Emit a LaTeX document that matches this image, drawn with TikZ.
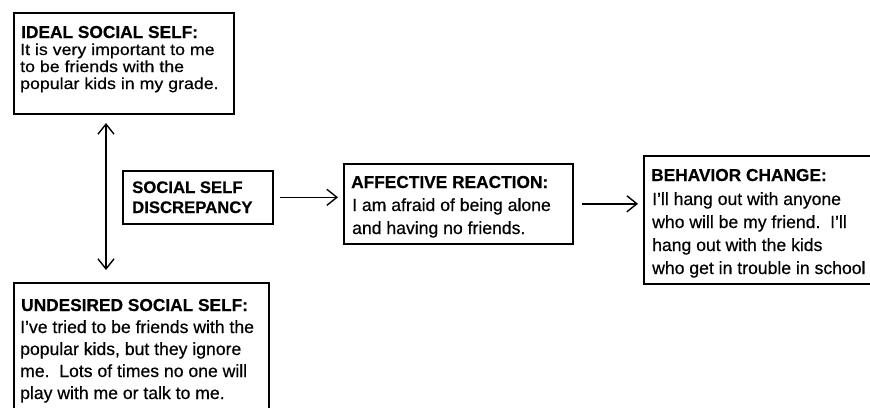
\documentclass[tikz,border=0pt]{standalone}
\usepackage{fontspec}
\setmainfont{Liberation Sans}[FakeBold=0.5]
\usetikzlibrary{arrows.meta}
\begin{document}
\begin{tikzpicture}[x=1pt,y=-1pt,
  box/.style={draw,line width=1.6pt,inner sep=0pt,anchor=north west},
  ttl/.style={anchor=base west,inner sep=0pt,font=\fontsize{17.3}{20}\selectfont\bfseries},
  bdy/.style={anchor=base west,inner sep=0pt,font=\fontsize{17.6}{20}\selectfont},
  sbdy/.style={anchor=base west,inner sep=0pt,font=\fontsize{16}{17}\selectfont\addfontfeature{FakeStretch=1.11}},
  arr/.style={line width=1.4pt,-{Straight Barb[length=10pt,width=16pt,line width=1.4pt]}},
  darr/.style={line width=1.4pt,{Straight Barb[length=10pt,width=16pt,line width=1.4pt]}-{Straight Barb[length=10pt,width=16pt,line width=1.4pt]}}]
\useasboundingbox (0,0) rectangle (870,407);
\clip (0,0) rectangle (870,407);
% boxes
\node[box,minimum width=220pt,minimum height=101pt] (ideal) at (13,12) {};
\node[box,minimum width=150pt,minimum height=53pt] (disc) at (122,170) {};
\node[box,minimum width=229pt,minimum height=80pt] (aff) at (343,163) {};
\node[box,minimum width=250pt,minimum height=128pt] (beh) at (643,155) {};
\node[box,minimum width=255pt,minimum height=150pt] (und) at (13,282) {};
% ideal
\node[ttl] (i0) at (21,38) {IDEAL SOCIAL SELF:};
\node[sbdy] (i1) at (20,55) {It is very important to me};
\node[sbdy] (i2) at (20,72) {to be friends with the};
\node[sbdy] (i3) at (20,89) {popular kids in my grade.};
% discrepancy
\node[anchor=base west,inner sep=0pt,font=\fontsize{16.7}{20}\selectfont\bfseries] (d1) at (132,193) {SOCIAL SELF};
\node[anchor=base west,inner sep=0pt,font=\fontsize{16.7}{20}\selectfont\bfseries] (d2) at (132,213) {DISCREPANCY};
% affective
\node[ttl] (a0) at (351,188) {AFFECTIVE REACTION:};
\node[bdy] (a1) at (352,211) {I am afraid of being alone};
\node[bdy] (a2) at (352,234) {and having no friends.};
% behavior
\node[ttl] (b0) at (651,181) {BEHAVIOR CHANGE:};
\node[bdy] (b1) at (652,205) {I'll hang out with anyone};
\node[bdy] (b2) at (652,228) {who will be my friend.\ \ I'll};
\node[bdy] (b3) at (652,251) {hang out with the kids};
\node[bdy] (b4) at (652,274) {who get in trouble in school};
% undesired
\node[ttl] (u0) at (21,311) {UNDESIRED SOCIAL SELF:};
\node[bdy] (u1) at (20,333) {I've tried to be friends with the};
\node[bdy] (u2) at (20,355) {popular kids, but they ignore};
\node[bdy] (u3) at (20,377) {me.\ \ Lots of times no one will};
\node[bdy] (u4) at (20,399) {play with me or talk to me.};
% connectors
\coordinate (vtop) at (106,123);
\coordinate (vbot) at (106,270);
\draw[darr] (vtop) -- (vbot);
\draw[arr,shorten <=6pt,shorten >=5pt] (disc.east) -- (disc.east -| aff.west);
\draw[arr,shorten <=8pt,shorten >=5pt] (aff.east) -- (aff.east -| beh.west);
\end{tikzpicture}
\end{document}
